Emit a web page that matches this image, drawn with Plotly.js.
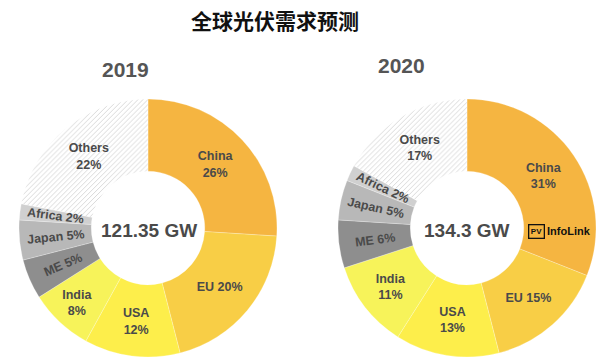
<!DOCTYPE html>
<html>
<head>
<meta charset="utf-8">
<script src="https://cdn.plot.ly/plotly-3.0.1.min.js"></script>
<style>html,body{margin:0;padding:0;background:#fff;}#chart{width:600px;height:362px;}</style>
</head>
<body>
<div id="chart"></div>
<script>
const chartTitle = '全球光伏需求预测';
const regions = ['China', 'EU', 'USA', 'India', 'ME', 'Japan', 'Africa', 'Others'];
const values2019 = [26, 20, 12, 8, 5, 5, 2, 22];
const values2020 = [31, 15, 13, 11, 6, 5, 2, 17];
const years = ['2019', '2020'];
const totalsGW = ['121.35 GW', '134.3 GW'];
const twoLineLabels = ['China', 'USA', 'India', 'Others'];
const smallLabels = ['ME', 'Japan', 'Africa'];

const sliceColors = ['#F5B541', '#F8CE46', '#FDEE4B', '#F7F35A', '#8E8E8E', '#B8B8B8', '#D0D0D0', '#FFFFFF'];
const patternShapes = ['', '', '', '', '', '', '', '/'];
const textColor = '#4a4a4a';
const fontFam = 'Liberation Sans, Arial, sans-serif';

const W = 600, H = 362;
const donutR = 129, holeFrac = 0.44;
const centers = [{x: 148, y: 228}, {x: 467, y: 228}];

function labelText(vals) {
  return regions.map((r, i) => r + (twoLineLabels.includes(r) ? '<br>' : ' ') + vals[i] + '%');
}

function domainFor(c) {
  return {x: [(c.x - donutR) / W, (c.x + donutR) / W],
          y: [1 - (c.y + donutR) / H, 1 - (c.y - donutR) / H]};
}

function makeTrace(vals, c) {
  const txt = labelText(vals);
  return {
    type: 'pie',
    labels: regions,
    values: vals,
    sort: false,
    direction: 'clockwise',
    rotation: 0,
    hole: holeFrac,
    domain: domainFor(c),
    textinfo: 'text',
    textposition: 'inside',
    text: txt.map((t, i) => smallLabels.includes(regions[i]) ? '' : t),
    insidetextorientation: 'horizontal',
    hoverinfo: 'label+percent',
    showlegend: false,
    textfont: {family: fontFam, size: 12.5, color: textColor, weight: 'bold'},
    marker: {
      colors: sliceColors,
      line: {color: 'rgba(255,255,255,0.5)', width: 0.5},
      pattern: {shape: patternShapes, fgcolor: '#d2d2d2', bgcolor: '#ffffff', size: 3.5, solidity: 0.24}
    }
  };
}

// radial labels for the thin grey slices, placed from the cumulative shares
function smallLabelAnnotations(vals, c) {
  const total = vals.reduce((a, b) => a + b, 0);
  const txt = labelText(vals);
  const rMid = donutR * (1 + holeFrac) / 2;
  const out = [];
  let cum = 0;
  vals.forEach((v, i) => {
    const mid = (cum + v / 2) / total;
    cum += v;
    if (!smallLabels.includes(regions[i])) return;
    const th = mid * 2 * Math.PI;
    const px = c.x + Math.sin(th) * rMid;
    const py = c.y - Math.cos(th) * rMid;
    let ang = mid * 360 - 270;
    if (ang > 90) ang -= 180;
    if (ang < -90) ang += 180;
    out.push({text: txt[i], x: px / W, y: 1 - py / H, xref: 'paper', yref: 'paper',
      xanchor: 'center', yanchor: 'middle', showarrow: false, textangle: ang,
      font: {family: fontFam, size: 12.5, color: textColor, weight: 'bold'}});
  });
  return out;
}

const data = [makeTrace(values2019, centers[0]), makeTrace(values2020, centers[1])];

const layout = {
  width: W, height: H,
  margin: {l: 0, r: 0, t: 0, b: 0},
  paper_bgcolor: '#fff',
  title: {
    text: chartTitle,
    x: 275 / W, xanchor: 'center',
    y: 1 - 22 / H, yanchor: 'middle',
    font: {family: 'Noto Sans CJK SC, sans-serif', size: 21, color: '#111', weight: 'bold'}
  },
  annotations: [
    {text: years[0], x: 125 / W, y: 1 - 69 / H, xref: 'paper', yref: 'paper', showarrow: false,
     xanchor: 'center', yanchor: 'middle',
     font: {family: fontFam, size: 21, color: '#555', weight: 'bold'}},
    {text: years[1], x: 401 / W, y: 1 - 66 / H, xref: 'paper', yref: 'paper', showarrow: false,
     xanchor: 'center', yanchor: 'middle',
     font: {family: fontFam, size: 21, color: '#555', weight: 'bold'}},
    {text: totalsGW[0], x: 149 / W, y: 1 - 230 / H, xref: 'paper', yref: 'paper', showarrow: false,
     xanchor: 'center', yanchor: 'middle',
     font: {family: fontFam, size: 19, color: textColor, weight: 'bold'}},
    {text: totalsGW[1], x: 467 / W, y: 1 - 230 / H, xref: 'paper', yref: 'paper', showarrow: false,
     xanchor: 'center', yanchor: 'middle',
     font: {family: fontFam, size: 19, color: textColor, weight: 'bold'}},
    {text: 'PV', x: 536 / W, y: 1 - 231 / H, xref: 'paper', yref: 'paper', showarrow: false,
     xanchor: 'center', yanchor: 'middle',
     bordercolor: '#111', borderwidth: 1.3, borderpad: 1.5,
     font: {family: fontFam, size: 8, color: '#111', weight: 'bold'}},
    {text: 'InfoLink', x: 545 / W, y: 1 - 231 / H, xref: 'paper', yref: 'paper', showarrow: false,
     xanchor: 'left', yanchor: 'middle',
     font: {family: fontFam, size: 11, color: '#111', weight: 'bold'}},
    ...smallLabelAnnotations(values2019, centers[0]),
    ...smallLabelAnnotations(values2020, centers[1])
  ]
};

Plotly.newPlot('chart', data, layout, {displayModeBar: false, staticPlot: true});
</script>
</body>
</html>
